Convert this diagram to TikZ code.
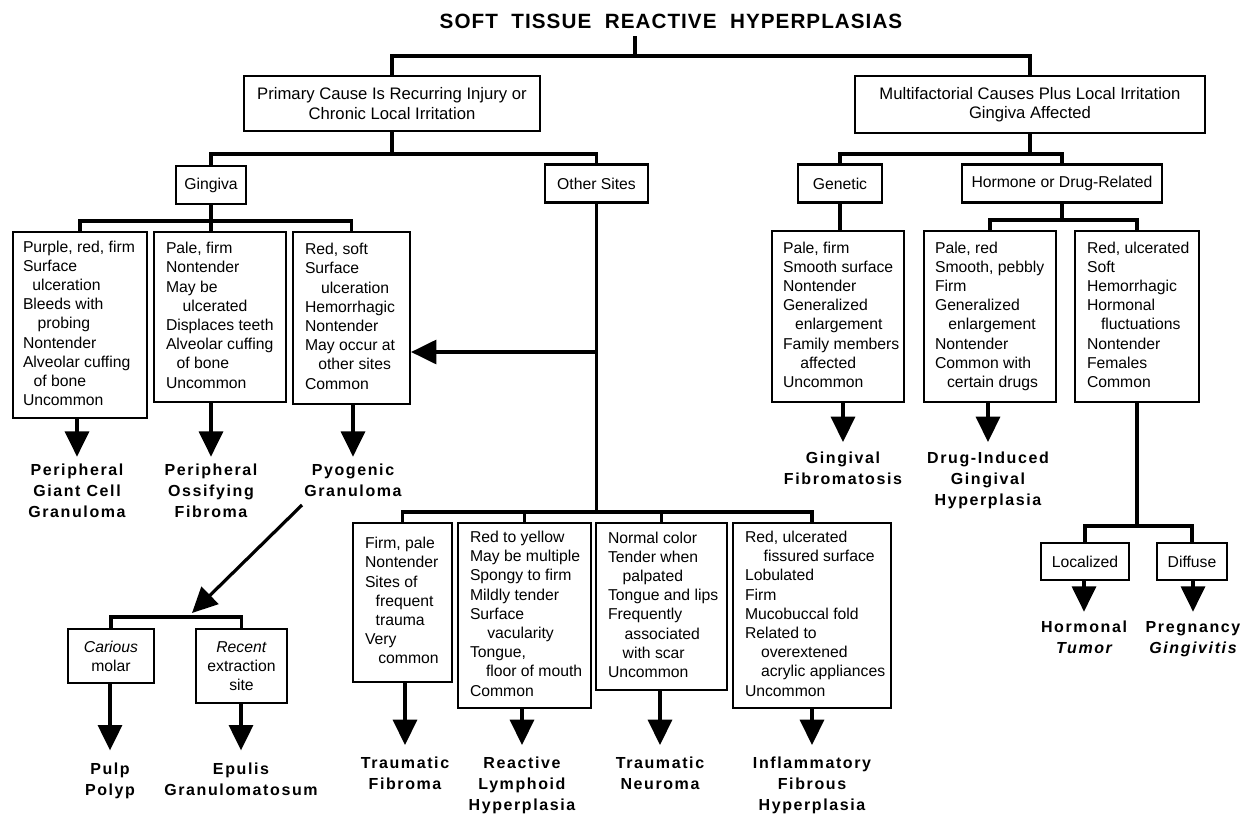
\documentclass[tikz,border=0pt]{standalone}
\usepackage{fontspec}
\setmainfont{Liberation Sans}
\newfontfamily\lblfam[LetterSpace=10]{Liberation Sans}
\newfontfamily\ttlfam[LetterSpace=5]{Liberation Sans}
\usetikzlibrary{arrows.meta,calc}
\newcommand\bxfont{\fontsize{11.8}{14.4}\selectfont}
\newcommand\topfont{\fontsize{12.5}{14.6}\selectfont}
\newcommand\lbox[3]{\makebox[#1][l]{\hspace*{#2}\begin{tabular}{@{}l@{}}#3\end{tabular}}}
\newcommand\lbl[1]{\begin{tabular}[t]{@{}c@{}}#1\end{tabular}}
\newcommand\ind[1]{\hspace*{#1}}
\tikzset{
  box/.style={draw, line width=1.6pt, inner sep=0pt, font=\bxfont},
  topbox/.style={box, align=center, font=\topfont},
  sz/.style 2 args={minimum width=#1, minimum height=#2},
  ln/.style={line width=2.4pt},
  arr/.style={line width=2.4pt, -{Triangle[width=18pt,length=19pt]}},
  lab/.style={font=\lblfam\bfseries\fontsize{12}{15.75}\selectfont, inner sep=0pt, anchor=base},
  ttl/.style={font=\ttlfam\bfseries\fontsize{15.5}{18}\selectfont, inner sep=0pt, anchor=base},
}
\begin{document}
\begin{tikzpicture}[x=0.75pt,y=-0.75pt]
\fill[white] (0,0) rectangle (1246,814);
\useasboundingbox (0,0) rectangle (1246,814);

% title
\node[ttl] (title) at (671,28) {SOFT\ \ TISSUE\ \ REACTIVE\ \ HYPERPLASIAS};

% level 1
\node[topbox, sz={222pt}{41.25pt}] (prim) at (392,103.5) {Primary Cause Is Recurring Injury or\\Chronic Local Irritation};
\node[topbox, sz={262.5pt}{42.75pt}] (multi) at (1030,104.5) {Multifactorial Causes Plus Local Irritation\\Gingiva Affected};

% level 2
\node[box, sz={52.5pt}{28.5pt}] (ging) at (211,185) {Gingiva};
\node[box, sz={77.25pt}{28.5pt}] (other) at (596.5,183.5) {Other Sites};
\node[box, sz={63pt}{28.5pt}] (gen) at (840,183.5) {Genetic};
\node[box, sz={150pt}{28.5pt}] (horm) at (1062,183.5) {Hormone or Drug-Related};

% level 3 left
\node[box, minimum height=139.5pt] (b1) at (80,325) {\lbox{100.5pt}{7.5pt}{Purple, red, firm\\Surface\\\ind{7pt}ulceration\\Bleeds with\\\ind{11pt}probing\\Nontender\\Alveolar cuffing\\\ind{8pt}of bone\\Uncommon}};
\node[box, minimum height=127.5pt] (b2) at (220,317) {\lbox{99pt}{9pt}{Pale, firm\\Nontender\\May be\\\ind{12.5pt}ulcerated\\Displaces teeth\\Alveolar cuffing\\\ind{8pt}of bone\\Uncommon}};
\node[box, minimum height=129pt] (b3) at (351.5,318) {\lbox{87.75pt}{9pt}{Red, soft\\Surface\\\ind{12pt}ulceration\\Hemorrhagic\\Nontender\\May occur at\\\ind{10pt}other sites\\Common}};

% level 3 right
\node[box, minimum height=128.25pt] (g1) at (838,316.5) {\lbox{99pt}{8.25pt}{Pale, firm\\Smooth surface\\Nontender\\Generalized\\\ind{9pt}enlargement\\Family members\\\ind{13pt}affected\\Uncommon}};
\node[box, minimum height=128.25pt] (h1) at (990,316.5) {\lbox{99pt}{8.25pt}{Pale, red\\Smooth, pebbly\\Firm\\Generalized\\\ind{10pt}enlargement\\Nontender\\Common with\\\ind{9pt}certain drugs}};
\node[box, minimum height=128.25pt] (h2) at (1137,316.5) {\lbox{93pt}{9pt}{Red, ulcerated\\Soft\\Hemorrhagic\\Hormonal\\\ind{10.5pt}fluctuations\\Nontender\\Females\\Common}};

% bottom row (other sites)
\node[box, minimum height=119.25pt] (tf) at (402.5,602.5) {\lbox{74.25pt}{9pt}{Firm, pale\\Nontender\\Sites of\\\ind{8pt}frequent\\\ind{8pt}trauma\\Very\\\ind{10pt}common}};
\node[box, minimum height=138.75pt] (rlh) at (524.5,615.5) {\lbox{99.75pt}{9pt}{Red to yellow\\May be multiple\\Spongy to firm\\Mildly tender\\Surface\\\ind{13pt}vacularity\\Tongue,\\\ind{12pt}floor of mouth\\Common}};
\node[box, minimum height=125.25pt] (tn) at (661.5,606.5) {\lbox{98.25pt}{9pt}{Normal color\\Tender when\\\ind{11pt}palpated\\Tongue and lips\\Frequently\\\ind{12.5pt}associated\\\ind{11pt}with scar\\Uncommon}};
\node[box, minimum height=138.75pt] (ifh) at (812,615.5) {\lbox{118.5pt}{9pt}{Red, ulcerated\\\ind{14pt}fissured surface\\Lobulated\\Firm\\Mucobuccal fold\\Related to\\\ind{12pt}overextened\\\ind{12pt}acrylic appliances\\Uncommon}};

% pyogenic sub-boxes
\node[box, align=center, sz={64.5pt}{40.5pt}] (car) at (111,656) {\textit{Carious}\\molar};
\node[box, align=center, sz={68.25pt}{55.5pt}] (rec) at (241.5,666) {\textit{Recent}\\extraction\\site};

% hormonal sub-boxes
\node[box, sz={66pt}{27.75pt}] (loc) at (1085,561.5) {Localized};
\node[box, sz={52.5pt}{27.75pt}] (dif) at (1192,561.5) {Diffuse};

% labels
\node[lab] (pgc) at (77,475) {\lbl{Peripheral\\Giant Cell\\Granuloma}};
\node[lab] (pof) at (211,475) {\lbl{Peripheral\\Ossifying\\Fibroma}};
\node[lab] (pg) at (353,475) {\lbl{Pyogenic\\Granuloma}};
\node[lab] (gfl) at (843,463) {\lbl{Gingival\\Fibromatosis}};
\node[lab] (dil) at (988,463) {\lbl{Drug-Induced\\Gingival\\Hyperplasia}};
\node[lab] (htl) at (1084,632) {\lbl{Hormonal\\\itshape Tumor}};
\node[lab] (pgl) at (1193,632) {\lbl{Pregnancy\\\itshape Gingivitis}};
\node[lab] (pp) at (110,774) {\lbl{Pulp\\Polyp}};
\node[lab] (eg) at (241,774) {\lbl{Epulis\\Granulomatosum}};
\node[lab] (tfl) at (405,768) {\lbl{Traumatic\\Fibroma}};
\node[lab] (rlhl) at (522,768) {\lbl{Reactive\\Lymphoid\\Hyperplasia}};
\node[lab] (tnl) at (660,768) {\lbl{Traumatic\\Neuroma}};
\node[lab] (ifhl) at (812,768) {\lbl{Inflammatory\\Fibrous\\Hyperplasia}};

% junction coordinates
\coordinate (tt) at (635,36);
\coordinate (tb) at (635,56);
\coordinate (yA) at (0,154);
\coordinate (yB) at (0,221);
\coordinate (yC) at (0,220);
\coordinate (yD) at (0,352);
\coordinate (yE) at (0,512);
\coordinate (yF) at (0,617);
\coordinate (yG) at (0,526);
\coordinate (dS) at (302,505);
\coordinate (dE) at (192,613);

% connectors
\draw[ln] (tt) -- (tb);
\draw[ln] (prim.north) |- (tb) -| (multi.north);
\draw[ln] (prim.south) -- (prim.south |- yA);
\draw[ln] (ging.north) |- (prim.south |- yA) -| (other.north);
\draw[ln] (multi.south) -- (multi.south |- yA);
\draw[ln] (gen.north) |- (multi.south |- yA) -| (horm.north);

\draw[ln] (ging.south) -- (ging.south |- b2.north);
\draw[ln] (b1.north) |- (ging.south |- yB) -| (b3.north);
\draw[ln] (gen.south) -- (gen.south |- g1.north);
\draw[ln] (horm.south) -- (horm.south |- yC);
\draw[ln] (h1.north) |- (horm.south |- yC) -| (h2.north);

\draw[arr, shorten >=2.5pt] (pgc.north |- b1.south) -- (pgc.north);
\draw[arr, shorten >=2.5pt] (pof.north |- b2.south) -- (pof.north);
\draw[arr, shorten >=2.5pt] (pg.north |- b3.south) -- (pg.north);
\draw[arr, shorten >=4.5pt] (gfl.north |- g1.south) -- (gfl.north);
\draw[arr, shorten >=4.5pt] (dil.north |- h1.south) -- (dil.north);

\draw[arr] (other.south |- yD) -- (b3.east |- yD);
\draw[ln] (other.south) -- (other.south |- yE);
\draw[ln] (tf.north) |- (other.south |- yE) -| (ifh.north);
\draw[ln] (rlh.north) -- (rlh.north |- yE);
\draw[ln] (tn.north) -- (tn.north |- yE);

\draw[arr, shorten >=6pt] (tfl.north |- tf.south) -- (tfl.north);
\draw[arr, shorten >=6pt] (rlhl.north |- rlh.south) -- (rlhl.north);
\draw[arr, shorten >=6pt] (tnl.north |- tn.south) -- (tnl.north);
\draw[arr, shorten >=6pt] (ifhl.north |- ifh.south) -- (ifhl.north);

\draw[arr] (dS) -- (dE);
\draw[ln] (car.north) |- (dE |- yF) -| (rec.north);
\draw[arr, shorten >=6.5pt] (pp.north |- car.south) -- (pp.north);
\draw[arr, shorten >=6.5pt] (eg.north |- rec.south) -- (eg.north);

\draw[ln] (h2.south) -- (h2.south |- yG);
\draw[ln] (loc.north) |- (h2.south |- yG) -| (dif.north);
\draw[arr, shorten >=4pt] (htl.north |- loc.south) -- (htl.north);
\draw[arr, shorten >=4pt] (pgl.north |- dif.south) -- (pgl.north);
\end{tikzpicture}
\end{document}
